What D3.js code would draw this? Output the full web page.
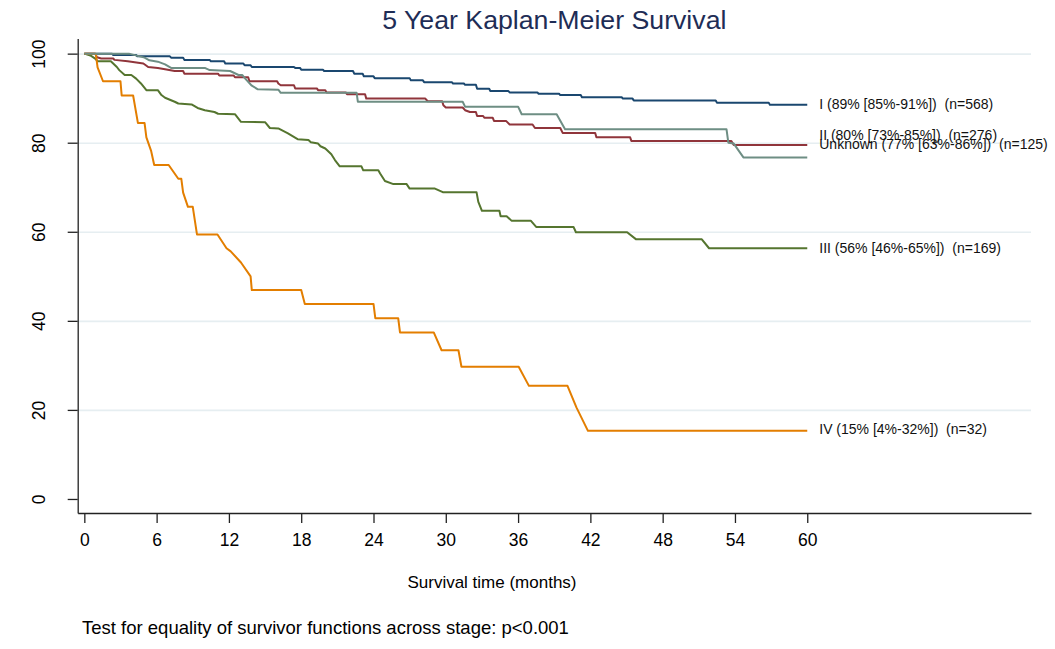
<!DOCTYPE html>
<html>
<head>
<meta charset="utf-8">
<script src="https://cdn.jsdelivr.net/npm/d3@7"></script>
<style>
    body { margin: 0; background: #fff; }
    svg { display: block; font-family: "Liberation Sans", Arial, sans-serif; }
</style>
</head>
<body>
<svg id="km" width="1055" height="649"></svg>
<script>
// tick values
const xTicks = [0, 6, 12, 18, 24, 30, 36, 42, 48, 54, 60];
const yTicks = [0, 20, 40, 60, 80, 100];
const gridTicks = [20, 40, 60, 80, 100];

// stages, in drawing order
const stageNames = ["I", "II", "III", "IV", "Unknown"];
const stageLabels = [
    "I (89% [85%-91%])  (n=568)",
    "II (80% [73%-85%])  (n=276)",
    "III (56% [46%-65%])  (n=169)",
    "IV (15% [4%-32%])  (n=32)",
    "Unknown (77% [63%-86%])  (n=125)"
];

// survival curves: [months, survival %] vertices
const survI = [[0, 100], [2.3, 100], [2.4, 99.7], [4.3, 99.7], [4.4, 99.4], [7.1, 99.4], [7.2, 99.1], [8.2, 99.1],
    [8.3, 98.6], [10.4, 98.6], [10.5, 98.3], [11.6, 98.3], [11.7, 97.8], [13.2, 97.8], [13.3, 97.4], [13.8, 97.4],
    [13.9, 97.0], [17.4, 97.0], [17.5, 96.8], [17.9, 96.8], [18.0, 96.4], [19.8, 96.4], [19.9, 96.1], [22.3, 96.1],
    [22.4, 95.5], [23.1, 95.5], [23.2, 94.9], [24.0, 94.9], [24.1, 94.5], [27.0, 94.5], [27.1, 94.0], [28.1, 94.0],
    [28.2, 93.6], [30.5, 93.6], [30.6, 93.3], [31.5, 93.3], [31.6, 93.0], [32.5, 93.0], [32.6, 92.1], [33.6, 92.1],
    [33.7, 91.6], [35.2, 91.6], [35.3, 91.3], [37.6, 91.3], [37.7, 91.0], [39.4, 91.0], [39.5, 90.7], [41.2, 90.7],
    [41.3, 90.2], [44.6, 90.2], [44.7, 89.9], [45.5, 89.9], [45.6, 89.5], [52.4, 89.5], [52.5, 89.0], [56.8, 89.0],
    [56.9, 88.5], [60, 88.5]];
const survII = [[0, 100], [0.9, 100], [1.05, 99.2], [1.4, 98.9], [2.4, 98.9], [2.5, 98.6], [3.6, 98.3], [4.9, 97.8],
    [5.3, 97.0], [6.1, 96.8], [6.7, 96.5], [7.5, 96.1], [8.2, 96.1], [8.3, 95.5], [11.1, 95.5], [11.2, 95.1],
    [12.4, 95.1], [12.5, 94.7], [13.6, 94.7], [13.7, 93.8], [16.0, 93.8], [16.1, 93.3], [16.3, 92.9], [17.4, 92.9],
    [17.5, 92.2], [19.3, 92.2], [19.4, 91.8], [20.0, 91.8], [20.1, 91.3], [21.7, 91.3], [21.8, 90.9], [23.3, 90.9],
    [23.4, 89.9], [28.3, 89.9], [28.5, 89.3], [29.7, 89.3], [29.8, 88.4], [30.0, 87.9], [31.4, 87.9], [31.6, 87.3],
    [32.0, 86.9], [32.5, 86.9], [32.6, 86.0], [33.1, 86.0], [33.2, 85.6], [33.9, 85.6], [34.0, 84.9], [35.0, 84.9],
    [35.3, 84.1], [37.2, 84.1], [37.4, 83.3], [39.5, 83.3], [39.7, 82.2], [42.4, 82.2], [42.5, 81.2], [45.3, 81.2],
    [45.4, 80.4], [53.7, 80.4], [53.9, 79.5], [60, 79.5]];
const survIII = [[0, 100], [0.5, 99.6], [0.9, 98.9], [1.1, 98.3], [2.2, 98.3], [2.7, 97.0], [2.9, 96.3], [3.35, 95.2],
    [3.9, 95.2], [4.3, 94.4], [4.7, 93.3], [5.15, 91.8], [6.1, 91.8], [6.4, 90.7], [6.7, 90.1], [7.5, 89.2],
    [7.8, 88.8], [8.9, 88.6], [9.4, 87.8], [10.0, 87.3], [10.8, 86.9], [11.1, 86.5], [12.5, 86.4], [13.0, 84.7],
    [15.0, 84.6], [15.4, 83.3], [16.1, 83.2], [16.9, 82.1], [17.7, 80.8], [18.6, 80.6], [18.8, 80.1], [19.4, 79.8],
    [19.6, 79.2], [20.0, 78.7], [20.5, 77.4], [20.8, 76.1], [21.2, 74.7], [23.0, 74.7], [23.15, 73.8], [24.4, 73.8],
    [24.55, 73.1], [24.95, 71.4], [25.65, 70.7], [26.75, 70.7], [27.0, 69.7], [29.1, 69.7], [29.75, 68.9],
    [32.55, 68.9], [32.7, 66.7], [33.0, 64.7], [34.45, 64.7], [34.55, 63.5], [35.05, 63.5], [35.45, 62.5],
    [37.05, 62.5], [37.5, 61.1], [40.6, 61.1], [40.8, 59.9], [45.05, 59.9], [45.8, 58.3], [51.25, 58.3],
    [51.85, 56.3], [60, 56.3]];
const survIV = [[0, 100], [0.95, 100], [1.1, 96.9], [1.55, 93.8], [3.0, 93.8], [3.1, 90.6], [4.05, 90.6], [4.45, 84.4],
    [5.0, 84.4], [5.15, 81.2], [5.55, 78.1], [5.8, 75.0], [7.0, 75.0], [7.8, 71.9], [8.05, 71.9], [8.2, 68.8],
    [8.6, 65.6], [9.0, 65.6], [9.35, 59.4], [11.05, 59.4], [11.8, 56.3], [12.15, 55.6], [13.0, 53.1], [13.8, 50.0],
    [13.9, 46.9], [18.0, 46.9], [18.3, 43.8], [24.0, 43.8], [24.15, 40.6], [26.05, 40.6], [26.2, 37.4], [29.0, 37.4],
    [29.65, 33.4], [31.05, 33.4], [31.3, 29.7], [36.05, 29.7], [36.9, 25.4], [40.1, 25.4], [40.85, 20.5],
    [41.8, 15.3], [60, 15.3]];
const survUnknown = [[0, 100], [3.7, 100], [5.0, 99.1], [5.4, 98.5], [6.1, 98.2], [6.7, 97.6], [7.2, 96.8], [10.0, 96.8],
    [10.4, 96.3], [12.1, 96.1], [12.8, 95.2], [13.1, 95.2], [13.45, 94.1], [13.9, 92.8], [14.4, 92.0], [16.1, 91.9],
    [16.3, 91.2], [22.6, 91.2], [22.7, 89.2], [31.4, 89.2], [31.6, 88.1], [36.0, 88.1], [36.3, 86.4], [39.2, 86.4],
    [39.9, 83.0], [53.3, 83.0], [53.45, 80.0], [53.9, 79.8], [54.7, 76.7], [60, 76.7]];

const curves = [survI, survII, survIII, survIV, survUnknown];

(function (window) {
    const svg = d3.select("svg#km");
    const width = +svg.attr("width");
    const height = +svg.attr("height");
    const margin = { top: 38.5, right: 24, bottom: 136, left: 77.7 };
    const chartRight = width - margin.right;
    const chartBottom = height - margin.bottom;

    const colors = ["#1a476f", "#90353b", "#55752f", "#e37e00", "#6e8e84"];
    // II and Unknown labels sit a little above their line ends
    const labelNudge = [-1, -10, 0, -2, -13.5];

    // stata-ish padded ranges
    const xScale = d3.scaleLinear().domain([-0.55, 78.57]).range([margin.left, chartRight]);
    const yScale = d3.scaleLinear().domain([-3.15, 103.4]).range([chartBottom, margin.top]);

    let annotations = svg.append("g").attr("id", "annotations");
    let chartArea = svg.append("g").attr("id", "curves");

    // gridlines
    let gridlines = d3.axisLeft(yScale)
        .tickValues(gridTicks)
        .tickSize(-(chartRight - margin.left))
        .tickFormat("");
    annotations.append("g")
        .attr("class", "y gridlines")
        .attr("transform", `translate(${margin.left},0)`)
        .call(gridlines)
        .call(g => g.select(".domain").remove())
        .selectAll("line")
        .attr("stroke", "#e6eef1")
        .attr("stroke-width", 1.6);

    // y axis
    let leftAxis = d3.axisLeft(yScale).tickValues(yTicks).tickSize(10).tickSizeOuter(0);
    let leftAxisG = annotations.append("g")
        .attr("class", "y axis")
        .attr("transform", `translate(${margin.left},0)`)
        .call(leftAxis);
    leftAxisG.selectAll("text")
        .attr("transform", "rotate(-90)")
        .attr("x", 0)
        .attr("y", -33)
        .attr("dy", 0)
        .attr("text-anchor", "middle")
        .attr("font-size", 17.5)
        .attr("fill", "#000");

    // x axis
    let bottomAxis = d3.axisBottom(xScale).tickValues(xTicks).tickSize(10).tickSizeOuter(0).tickPadding(11);
    let bottomAxisG = annotations.append("g")
        .attr("class", "x axis")
        .attr("transform", `translate(0,${chartBottom})`)
        .call(bottomAxis);
    bottomAxisG.selectAll("text")
        .attr("font-size", 17.5)
        .attr("fill", "#000");

    annotations.selectAll(".axis path, .axis line")
        .attr("stroke", "#222")
        .attr("stroke-width", 1.3);

    // the curves
    const line = d3.line()
        .x(d => xScale(d[0]))
        .y(d => yScale(d[1]));

    chartArea.selectAll("path.km").data(curves)
        .join("path").attr("class", "km")
        .attr("fill", "none")
        .attr("stroke", (d, i) => colors[i])
        .attr("stroke-width", 2)
        .attr("stroke-linejoin", "round")
        .attr("d", line);

    // end labels
    chartArea.selectAll("text.stage").data(curves)
        .join("text").attr("class", "stage")
        .attr("x", d => xScale(d[d.length - 1][0]) + 12)
        .attr("y", (d, i) => yScale(d[d.length - 1][1]) + labelNudge[i])
        .attr("dy", "0.35em")
        .attr("font-size", 14)
        .attr("fill", "#111")
        .style("white-space", "pre")
        .text((d, i) => stageLabels[i]);

    // titles
    svg.append("text")
        .attr("x", (margin.left + chartRight) / 2)
        .attr("y", 29)
        .attr("text-anchor", "middle")
        .attr("font-size", 26.7)
        .attr("fill", "#1e2d56")
        .text("5 Year Kaplan-Meier Survival");

    svg.append("text")
        .attr("x", 492)
        .attr("y", 588)
        .attr("text-anchor", "middle")
        .attr("font-size", 17)
        .attr("fill", "#000")
        .text("Survival time (months)");

    svg.append("text")
        .attr("x", 82)
        .attr("y", 634)
        .attr("font-size", 18.5)
        .attr("fill", "#000")
        .text("Test for equality of survivor functions across stage: p<0.001");
})(window)
</script>
</body>
</html>
